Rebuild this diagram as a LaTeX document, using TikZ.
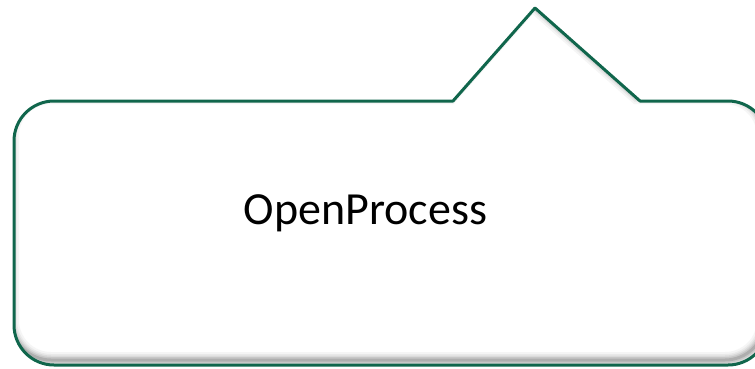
\documentclass[tikz,border=0pt]{standalone}
\usepackage{fontspec}
\setmainfont{Carlito}
\definecolor{bubbleline}{RGB}{16,102,76}

% outline of the speech bubble, pointer on top
\newcommand{\bubblepath}{(300,101) -- (453,101) -- (535,8) -- (640,101)
  -- (660,101) [rounded corners=40pt] -- (768,101) -- (768,365) -- (14,365)
  -- (14,101) -- cycle}

\begin{document}
\begin{tikzpicture}[x=1pt,y=-1pt]
    \useasboundingbox (0,0) rectangle (755,368);
    \clip (0,0) rectangle (755,368);

    \fill[white] \bubblepath;

    % soft inner shadow
    \begin{scope}
      \clip \bubblepath;
      \foreach \w/\o in {16/0.05,12/0.07,9/0.09,6/0.13,3/0.2}
        \draw[line width=\w pt, black!70, opacity=\o, shift={(-3,-5)}] \bubblepath;
    \end{scope}

    \draw[bubbleline, line width=3pt, line join=round] \bubblepath;

    \node[anchor=base, inner sep=0pt] (label) at (365.5,224)
      {\fontsize{46}{54}\selectfont OpenProcess};
\end{tikzpicture}
\end{document}
